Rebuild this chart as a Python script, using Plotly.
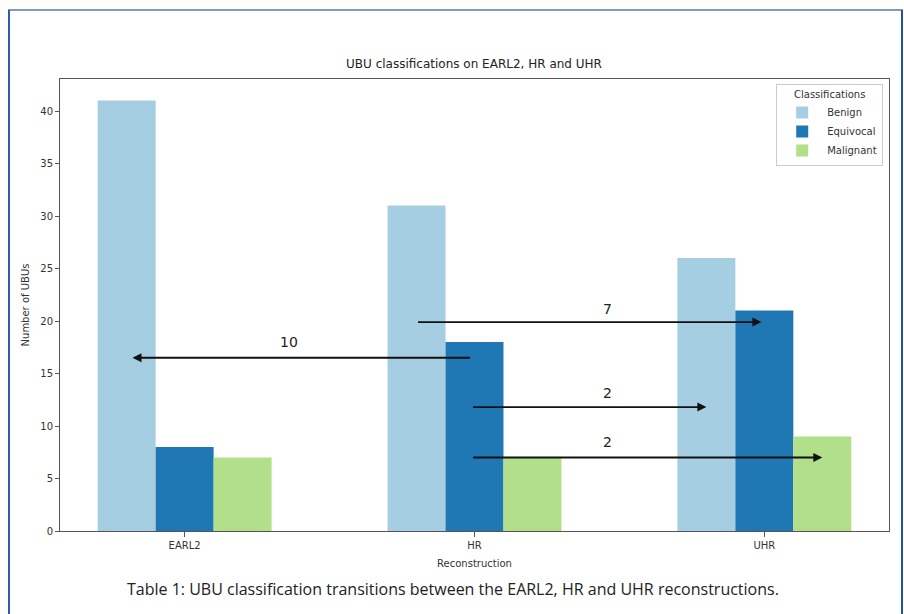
import plotly.graph_objects as go

# Categories and counts per classification
reconstructions = ["EARL2", "HR", "UHR"]
benign = [41, 31, 26]
equivocal = [8, 18, 21]
malignant = [7, 7, 9]

# Transitions between reconstructions: (count, start x, end x, level, label x, label y)
transition_counts = [10, 7, 2, 2]
transition_start = [0.99, 0.8, 0.99, 0.99]
transition_end = [-0.18, 1.99, 1.8, 2.2]
transition_level = [16.5, 19.9, 11.8, 7.0]
label_x = [0.36, 1.46, 1.46, 1.46]
label_y = [18.0, 21.1, 13.1, 8.45]

yticks = [0, 5, 10, 15, 20, 25, 30, 35, 40]

W, H = 904, 614
L, R, T, B = 60, 15, 79, 83
PW, PH = W - L - R, H - T - B

def px(x):
    return (x - L) / PW

def py(y):
    return (H - B - y) / PH

fig = go.Figure()
x_idx = list(range(len(reconstructions)))
for name, vals, color in [("Benign", benign, "#a6cee3"),
                          ("Equivocal", equivocal, "#1f78b4"),
                          ("Malignant", malignant, "#b2df8a")]:
    fig.add_trace(go.Bar(x=x_idx, y=vals, name=name, marker_color=color,
                         marker_line_width=0))

annotations = []
for c, x0, x1, yv, lx, ly in zip(transition_counts, transition_start,
                                  transition_end, transition_level,
                                  label_x, label_y):
    annotations.append(dict(x=x1, y=yv, ax=x0, ay=yv, xref="x", yref="y",
                            axref="x", ayref="y", showarrow=True,
                            arrowhead=2, arrowsize=1, arrowwidth=1.8,
                            arrowcolor="#111111", text=""))
    annotations.append(dict(x=lx, y=ly, xref="x", yref="y", text=str(c),
                            showarrow=False,
                            font=dict(size=14, color="#222222",
                                      family="DejaVu Sans")))

annotations.append(dict(x=px(453), y=py(589), xref="paper", yref="paper",
                        text="Table 1: UBU classification transitions between the EARL2, HR and UHR reconstructions.",
                        showarrow=False, xanchor="center", yanchor="middle",
                        font=dict(size=16, color="#222222", family="Open Sans")))

# Document frame around the figure
shapes = [
    dict(type="line", xref="paper", yref="paper", x0=px(8), x1=px(903),
         y0=py(10), y1=py(10), line=dict(color="#7d9cc4", width=2)),
    dict(type="line", xref="paper", yref="paper", x0=px(9), x1=px(9),
         y0=py(10), y1=py(616), line=dict(color="#2f5ba6", width=2)),
    dict(type="line", xref="paper", yref="paper", x0=px(902), x1=px(902),
         y0=py(10), y1=py(616), line=dict(color="#24509c", width=2)),
]

fig.update_layout(
    width=W, height=H,
    margin=dict(l=L, r=R, t=T, b=B),
    paper_bgcolor="white", plot_bgcolor="white",
    barmode="group", bargap=0.4, bargroupgap=0,
    font=dict(family="DejaVu Sans", size=10, color="#333333"),
    title=dict(text="UBU classifications on EARL2, HR and UHR",
               x=px(474), xref="paper", xanchor="center",
               y=1 - 64 / H, yref="container", yanchor="middle",
               font=dict(size=12, color="#222222")),
    xaxis=dict(tickmode="array", tickvals=x_idx, ticktext=reconstructions,
               range=[-0.43, 2.43], showline=True, mirror=True,
               linecolor="#555555", linewidth=1, ticks="outside",
               ticklen=5, tickcolor="#555555", showgrid=False, zeroline=False,
               title=dict(text="Reconstruction", standoff=9,
                          font=dict(size=10, color="#333333"))),
    yaxis=dict(tickvals=yticks, range=[0, 43.05], showline=True, mirror=True,
               linecolor="#555555", linewidth=1, ticks="outside",
               ticklen=4, tickcolor="#555555", showgrid=False, zeroline=False,
               title=dict(text="Number of UBUs", standoff=8,
                          font=dict(size=10, color="#333333"))),
    legend=dict(title=dict(text="Classifications", side="top center",
                           font=dict(size=10, color="#333333")),
                x=0.993, y=0.989, xanchor="right", yanchor="top",
                bordercolor="#cccccc", borderwidth=1, bgcolor="white",
                font=dict(size=10, color="#333333"), tracegroupgap=0,
                itemwidth=40),
    annotations=annotations,
    shapes=shapes,
)

fig.write_html("out.html")
